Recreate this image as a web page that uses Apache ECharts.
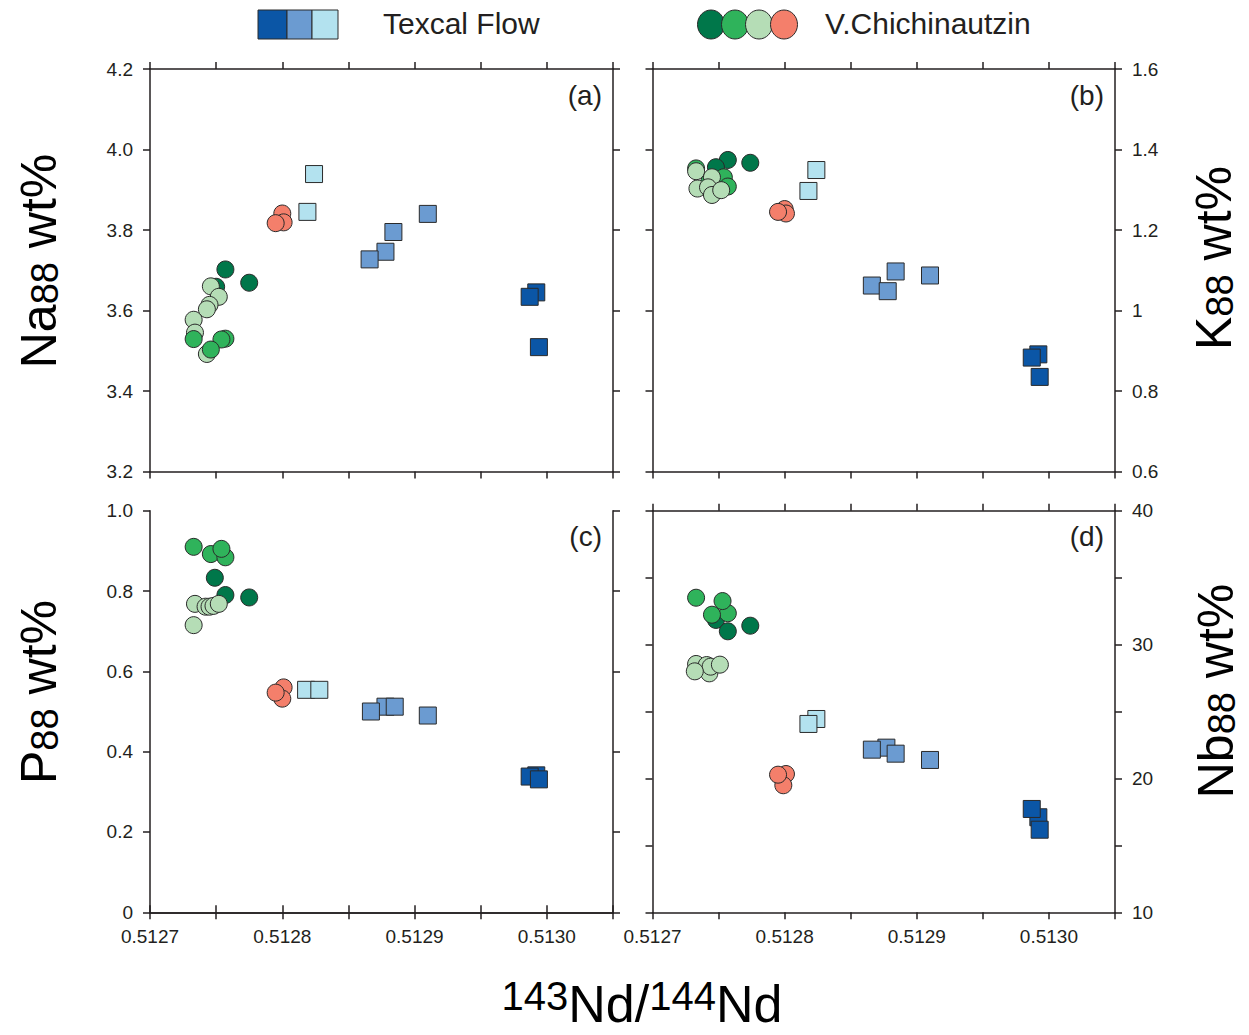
<!DOCTYPE html>
<html>
<head>
<meta charset="utf-8">
<script src="https://cdn.jsdelivr.net/npm/echarts@6/dist/echarts.min.js"></script>
<style>
html,body{margin:0;padding:0;background:#fff;}
#chart{width:1249px;height:1035px;}
</style>
</head>
<body>
<div id="chart"></div>
<script>
// ---------- DATA: [143Nd/144Nd, oxide/element] ----------
// Panel (a) Na88 wt%
const naTexcalDark  = [[0.512992,3.645],[0.512987,3.634],[0.512994,3.509]];
const naTexcalMid   = [[0.512878,3.746],[0.512866,3.727],[0.512884,3.795],[0.512910,3.840]];
const naTexcalLight = [[0.512819,3.845],[0.512824,3.939]];
const naChichDark   = [[0.512750,3.659],[0.512757,3.702],[0.512775,3.669]];
const naChichMid    = [[0.512733,3.529],[0.512757,3.530],[0.512754,3.528],[0.512746,3.503]];
const naChichLight  = [[0.512746,3.660],[0.512752,3.634],[0.512745,3.614],[0.512743,3.603],[0.512733,3.577],[0.512734,3.545],[0.512743,3.492]];
const naChichSalmon = [[0.512800,3.841],[0.512801,3.819],[0.512795,3.817]];
// Panel (b) K88 wt%
const kTexcalDark  = [[0.512992,0.891],[0.512987,0.883],[0.512993,0.835]];
const kTexcalMid   = [[0.512884,1.097],[0.512910,1.087],[0.512866,1.062],[0.512878,1.048]];
const kTexcalLight = [[0.512818,1.297],[0.512824,1.349]];
const kChichDark   = [[0.512757,1.374],[0.512774,1.367],[0.512748,1.356]];
const kChichMid    = [[0.512733,1.353],[0.512743,1.320],[0.512754,1.331],[0.512757,1.308]];
const kChichLight  = [[0.512733,1.346],[0.512745,1.331],[0.512734,1.303],[0.512742,1.306],[0.512745,1.287],[0.512752,1.299]];
const kChichSalmon = [[0.512800,1.252],[0.512801,1.241],[0.512795,1.245]];
// Panel (c) P88 wt%
const pTexcalDark  = [[0.512992,0.341],[0.512987,0.338],[0.512994,0.331]];
const pTexcalMid   = [[0.512878,0.512],[0.512867,0.500],[0.512885,0.512],[0.512910,0.490]];
const pTexcalLight = [[0.512818,0.554],[0.512828,0.554]];
const pChichDark   = [[0.512749,0.833],[0.512757,0.790],[0.512775,0.784]];
const pChichMid    = [[0.512733,0.910],[0.512746,0.892],[0.512757,0.884],[0.512754,0.905]];
const pChichLight  = [[0.512734,0.768],[0.512742,0.761],[0.512745,0.761],[0.512748,0.763],[0.512752,0.768],[0.512733,0.715]];
const pChichSalmon = [[0.512801,0.560],[0.512800,0.532],[0.512795,0.547]];
// Panel (d) Nb88 wt%
const nbTexcalDark  = [[0.512992,17.10],[0.512987,17.72],[0.512993,16.17]];
const nbTexcalMid   = [[0.512877,22.30],[0.512866,22.15],[0.512884,21.85],[0.512910,21.38]];
const nbTexcalLight = [[0.512824,24.44],[0.512818,24.07]];
const nbChichDark   = [[0.512748,31.84],[0.512757,30.99],[0.512774,31.41]];
const nbChichMid    = [[0.512733,33.50],[0.512757,32.34],[0.512745,32.23],[0.512753,33.25]];
const nbChichLight  = [[0.512733,28.55],[0.512741,28.47],[0.512743,27.85],[0.512744,28.35],[0.512751,28.50],[0.512732,28.00]];
const nbChichSalmon = [[0.512801,20.33],[0.512799,19.49],[0.512795,20.28]];

// axis ranges / ticks
const xRange = [0.5127, 0.51305];
const xStep = 0.00005;
const naRange = [3.2, 4.2, 0.2];
const kRange  = [0.6, 1.6, 0.2];
const pRange  = [0, 1.0, 0.2];
const nbRange = [10, 40, 5];
const panelLetters = ['(a)','(b)','(c)','(d)'];
const legendNames = ['Texcal Flow','V.Chichinautzin'];

// ---------- STYLE ----------
const C = {
  tDark:'#0b56a6', tMid:'#6b9bd1', tLight:'#b3e2ef',
  cDark:'#00774a', cMid:'#2fb35b', cLight:'#b5ddb6', cSalmon:'#f47f6b'
};
const INK = '#231f20';
const FONT = 'Liberation Sans, Arial, Helvetica, sans-serif';

const grids = [
  {left:150,   top:69,    width:463,   height:402.5},
  {left:652.5, top:69,    width:462.5, height:402.5},
  {left:150,   top:510.7, width:463,   height:401.6},
  {left:652.5, top:510.7, width:462.5, height:401.6}
];

const panels = [
  {range:naRange, labelRight:false, fmt:v=>v.toFixed(1), xLabels:false,
   sets:{tDark:naTexcalDark,tMid:naTexcalMid,tLight:naTexcalLight,cDark:naChichDark,cMid:naChichMid,cLight:naChichLight,cSalmon:naChichSalmon},
   order:['cDark','cLight','cMid','cSalmon','tLight','tMid','tDark']},
  {range:kRange, labelRight:true, fmt:v=>String(+v.toFixed(1)), xLabels:false,
   sets:{tDark:kTexcalDark,tMid:kTexcalMid,tLight:kTexcalLight,cDark:kChichDark,cMid:kChichMid,cLight:kChichLight,cSalmon:kChichSalmon},
   order:['cDark','cMid','cLight','cSalmon','tLight','tMid','tDark']},
  {range:pRange, labelRight:false, fmt:v=>(Math.abs(v)<1e-9?'0':v.toFixed(1)), xLabels:true,
   sets:{tDark:pTexcalDark,tMid:pTexcalMid,tLight:pTexcalLight,cDark:pChichDark,cMid:pChichMid,cLight:pChichLight,cSalmon:pChichSalmon},
   order:['cDark','cLight','cMid','cSalmon','tLight','tMid','tDark']},
  {range:nbRange, labelRight:true, fmt:v=>(Math.round(v)%10===0?String(Math.round(v)):''), xLabels:true,
   sets:{tDark:nbTexcalDark,tMid:nbTexcalMid,tLight:nbTexcalLight,cDark:nbChichDark,cMid:nbChichMid,cLight:nbChichLight,cSalmon:nbChichSalmon},
   order:['cDark','cMid','cLight','cSalmon','tLight','tMid','tDark']}
];

const xFmt = v => {
  const k = Math.round((v - xRange[0]) / xStep);
  return k % 2 === 0 ? v.toFixed(4) : '';
};

const axisLineStyle = {show:true, lineStyle:{color:INK, width:1.5}};
const tickStyle = {show:true, inside:false, length:7, lineStyle:{color:INK, width:1.5}};
const labelBase = {color:INK, fontFamily:FONT, fontSize:19};

const xAxis = [], yAxis = [], series = [];
panels.forEach((p, i) => {
  ['bottom','top'].forEach(pos => {
    xAxis.push({
      type:'value', gridIndex:i, position:pos, min:xRange[0], max:xRange[1], interval:xStep,
      axisLine:axisLineStyle, axisTick:tickStyle, splitLine:{show:false},
      axisLabel: Object.assign({show: pos==='bottom' && p.xLabels, margin:15, formatter:xFmt, showMinLabel:true, showMaxLabel:true}, labelBase)
    });
  });
  ['left','right'].forEach(pos => {
    const labeled = (pos==='right') === p.labelRight;
    yAxis.push({
      type:'value', gridIndex:i, position:pos, min:p.range[0], max:p.range[1], interval:p.range[2],
      axisLine:axisLineStyle, axisTick:tickStyle, splitLine:{show:false},
      axisLabel: Object.assign({show:labeled, margin:17, padding:[0,0,7,0], formatter:p.fmt, showMinLabel:true, showMaxLabel:true}, labelBase)
    });
  });
  const yIdx = 2*i + (p.labelRight ? 1 : 0);
  p.order.forEach(key => {
    const isSquare = key[0] === 't';
    series.push({
      type:'scatter', xAxisIndex:2*i, yAxisIndex:yIdx,
      data:p.sets[key], symbol: isSquare ? 'rect' : 'circle',
      symbolSize:17,
      itemStyle:{color:C[key], borderColor:'#2a2a2a', borderWidth:1, opacity:1},
      emphasis:{disabled:true}, silent:true, animation:false
    });
  });
});

// ---------- decorations: titles, letters, legend ----------
const titleRich = {
  a:{fontSize:50, fontFamily:FONT, color:INK, verticalAlign:'bottom', lineHeight:54},
  s:{fontSize:38, fontFamily:FONT, color:INK, verticalAlign:'bottom', lineHeight:54},
  b:{fontSize:52, fontFamily:FONT, color:INK, verticalAlign:'bottom', lineHeight:54},
  sup:{fontSize:40, fontFamily:FONT, color:INK, verticalAlign:'top', lineHeight:54, padding:[0,0,12,0]}
};
function vTitle(x, y, main) {
  return {type:'text', x:x, y:y, rotation:Math.PI/2, silent:true,
    style:{text:'{a|'+main+'}{s|88}{a| wt%}', rich:titleRich, align:'center', verticalAlign:'middle'}};
}
const graphic = [
  vTitle(37, 261, 'Na'),
  vTitle(37, 692, 'P'),
  vTitle(1212, 258, 'K'),
  vTitle(1214, 691, 'Nb'),
  {type:'text', x:642, y:1003, silent:true,
   style:{text:'{sup|143}{b|Nd/}{sup|144}{b|Nd}', rich:titleRich, align:'center', verticalAlign:'middle'}}
];
const letterPos = [[602,95],[1104,95],[602,536],[1104,536]];
panelLetters.forEach((t, i) => {
  graphic.push({type:'text', x:letterPos[i][0], y:letterPos[i][1], silent:true,
    style:{text:t, font:'28px '+FONT, fill:INK, align:'right', verticalAlign:'middle'}});
});
// legend swatches
[['tDark',258,29],['tMid',287,25],['tLight',312,26]].forEach(s => {
  graphic.push({type:'rect', silent:true, shape:{x:s[1], y:10, width:s[2], height:29},
    style:{fill:C[s[0]], stroke:'#2a2a2a', lineWidth:1}});
});
[['cDark',711],['cMid',735],['cLight',759],['cSalmon',784]].forEach(s => {
  graphic.push({type:'ellipse', silent:true, shape:{cx:s[1], cy:24.5, rx:13.5, ry:14.5},
    style:{fill:C[s[0]], stroke:'#2a2a2a', lineWidth:1}});
});
graphic.push({type:'text', x:383, y:23, silent:true,
  style:{text:legendNames[0], font:'30px '+FONT, fill:INK, align:'left', verticalAlign:'middle'}});
graphic.push({type:'text', x:825, y:23, silent:true,
  style:{text:legendNames[1], font:'30px '+FONT, fill:INK, align:'left', verticalAlign:'middle'}});

const chart = echarts.init(document.getElementById('chart'), null, {renderer:'svg'});
chart.setOption({
  animation:false,
  backgroundColor:'#fff',
  grid:grids.map(g => Object.assign({containLabel:false}, g)),
  xAxis:xAxis, yAxis:yAxis, series:series, graphic:graphic
});
</script>
</body>
</html>
